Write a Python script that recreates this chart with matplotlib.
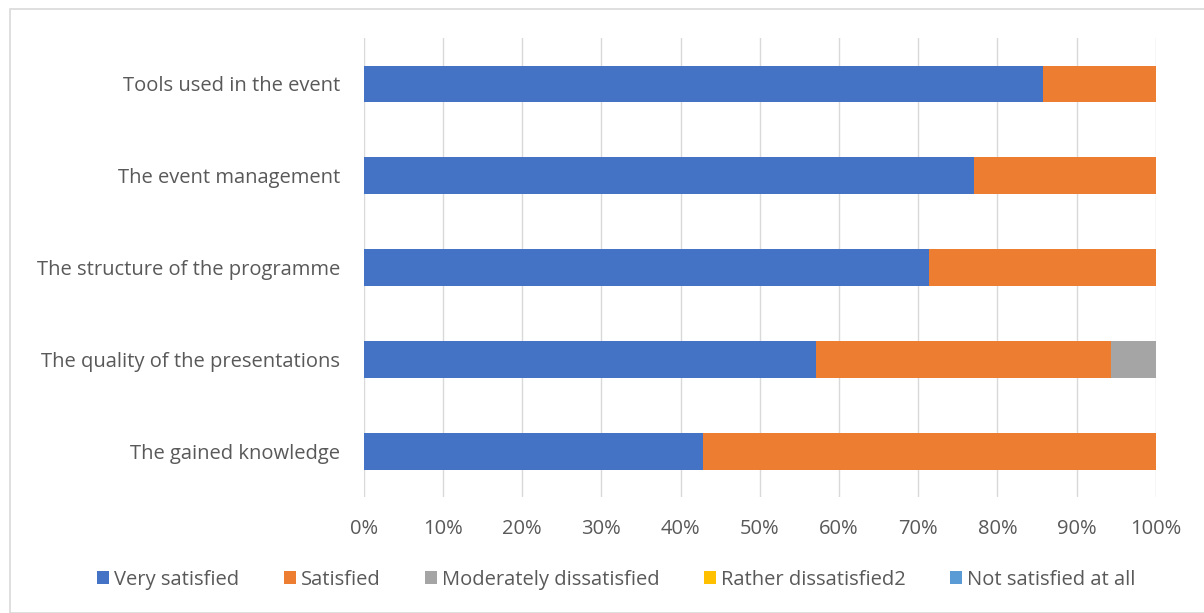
import matplotlib.pyplot as plt
from matplotlib.patches import Rectangle
import numpy as np

plt.rcParams['font.family'] = ['Open Sans', 'DejaVu Sans']

categories = ["The gained knowledge", "The quality of the presentations",
              "The structure of the programme", "The event management",
              "Tools used in the event"]
series = ["Very satisfied", "Satisfied", "Moderately dissatisfied",
          "Rather dissatisfied2", "Not satisfied at all"]
very_satisfied = [42.9, 57.1, 71.4, 77.1, 85.7]
satisfied = [57.1, 37.2, 28.6, 22.9, 14.3]
moderately = [0, 5.7, 0, 0, 0]
rather = [0, 0, 0, 0, 0]
not_at_all = [0, 0, 0, 0, 0]
colors = ["#4472C4", "#ED7D31", "#A5A5A5", "#FFC000", "#5B9BD5"]

values = [very_satisfied, satisfied, moderately, rather, not_at_all]

fig = plt.figure(figsize=(12.04, 6.13), dpi=100)
ax = fig.add_axes([0.302, 0.189, 0.658, 0.749])

y = np.arange(len(categories))
left = np.zeros(len(categories))
for name, vals, c in zip(series, values, colors):
    ax.barh(y, vals, left=left, height=0.4, color=c, label=name, zorder=2)
    left += np.array(vals)

ax.set_xlim(0, 100)
ax.set_ylim(-0.5, 4.5)
ax.set_xticks(np.arange(0, 101, 10))
ax.set_xticklabels([f"{v}%" for v in range(0, 101, 10)])
ax.set_yticks(y)
ax.set_yticklabels(categories)
ax.xaxis.grid(True, color="#D9D9D9", linewidth=1, zorder=0)
for s in ax.spines.values():
    s.set_visible(False)
ax.tick_params(axis="both", length=0, labelsize=14.5, colors="#595959")
ax.tick_params(axis="x", pad=16)
ax.tick_params(axis="y", pad=17)

fig.legend(loc="center", bbox_to_anchor=(0.512, 0.054), ncol=5, frameon=False,
           fontsize=14.5, handlelength=0.6, handleheight=0.6, handletextpad=0.25,
           columnspacing=2.2, labelcolor="#595959")

fig.patches.append(Rectangle((0.008, 0.0), 1.0, 0.986, transform=fig.transFigure,
                             fill=False, edgecolor="#D9D9D9", linewidth=1.2))

fig.savefig("out.png", dpi=100)
